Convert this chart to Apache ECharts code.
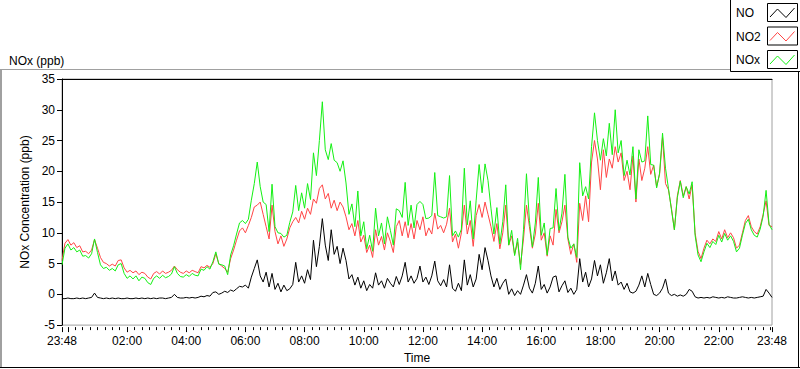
<!DOCTYPE html>
<html><head><meta charset="utf-8">
<script src="https://cdn.jsdelivr.net/npm/echarts@6/dist/echarts.min.js"></script>
<style>html,body{margin:0;padding:0;background:#fff;}#c{width:800px;height:369px;}</style>
</head><body><div id="c"></div>
<script>
// time axis: minutes relative to 00:00, first sample at 23:48 (-12), one sample every 6 minutes
const startMinute = -12;
const stepMinutes = 6;

const seriesNames = ['NO', 'NO2', 'NOx'];

const no = [
 -0.7,-0.7,-0.6,-0.7,-0.7,-0.6,-0.7,-0.6,-0.7,-0.6,
 -0.5,0.2,-0.5,-0.6,-0.7,-0.6,-0.7,-0.6,-0.7,-0.6,
 -0.7,-0.7,-0.6,-0.7,-0.7,-0.6,-0.7,-0.6,-0.7,-0.6,
 -0.7,-0.6,-0.7,-0.6,-0.6,-0.7,-0.6,-0.5,0.0,-0.5,
 -0.6,-0.6,-0.5,-0.6,-0.5,-0.6,-0.5,-0.3,-0.4,-0.2,
 -0.3,0.3,0.4,0.0,0.2,0.5,0.3,0.7,0.5,0.9,
 1.3,1.2,1.5,1.0,2.8,4.2,5.6,3.0,2.0,3.6,
 1.2,3.4,0.8,1.8,0.4,1.5,0.6,0.9,1.6,5.2,
 2.0,3.0,1.8,4.0,2.4,8.8,4.5,7.8,12.3,8.0,
 5.5,10.5,6.5,7.8,5.0,7.5,5.5,2.5,3.2,1.5,
 2.8,1.0,2.2,0.6,1.6,1.0,3.5,1.5,2.2,1.0,
 2.6,1.8,1.2,2.9,1.6,3.0,5.2,2.0,3.0,1.8,
 2.6,4.6,2.0,2.8,1.6,3.0,5.4,2.2,1.4,2.4,
 1.2,4.8,1.0,0.5,1.8,0.6,5.6,1.5,3.2,1.2,
 2.5,6.5,4.0,7.6,5.5,3.0,1.2,2.6,0.8,1.8,
 2.5,0.0,0.9,-0.2,0.6,0.0,1.5,3.2,1.0,0.2,
 1.8,4.6,0.8,1.6,0.2,1.2,2.8,3.0,0.4,1.4,
 2.2,0.3,1.0,0.0,0.8,5.8,2.0,3.6,1.2,2.5,
 5.5,3.0,4.8,1.8,3.5,5.8,2.2,3.8,1.5,2.0,
 0.8,1.8,0.4,0.2,0.5,1.5,3.0,1.2,3.4,1.6,
 0.0,-0.2,0.2,1.0,2.5,0.2,-0.2,0.0,-0.3,-0.1,
 -0.3,0.0,0.8,0.5,-0.4,-0.6,-0.5,-0.6,-0.5,-0.6,
 -0.4,-0.5,-0.6,-0.5,-0.6,-0.4,-0.5,-0.6,-0.6,-0.5,
 -0.4,-0.5,-0.6,-0.5,-0.6,-0.5,-0.4,-0.3,0.8,0.2,
 -0.5
];

const no2 = [
 5.5,8.3,8.9,8.0,8.4,7.6,7.9,6.9,7.0,6.6,
 7.2,8.9,7.5,6.0,5.2,5.0,4.6,4.9,4.6,5.5,
 5.6,4.3,3.6,3.9,3.5,3.8,3.2,3.6,3.4,2.8,
 2.5,3.4,3.7,3.3,3.8,3.4,3.6,3.9,4.6,4.0,
 3.6,3.4,3.8,3.5,3.9,3.7,3.5,4.5,4.3,4.7,
 4.4,5.0,6.6,5.0,4.6,4.2,3.6,5.8,7.2,8.8,
 10.3,10.8,10.0,11.2,12.5,14.2,14.5,15.0,13.0,11.0,
 9.0,14.5,10.2,8.2,9.5,7.8,9.0,10.8,11.8,12.5,
 11.6,13.5,12.2,14.0,13.0,15.5,14.8,17.2,17.8,15.5,
 16.4,14.0,15.3,13.6,15.0,14.2,12.6,10.5,11.5,9.5,
 12.0,8.5,9.6,6.8,8.0,6.0,10.5,8.0,9.4,7.2,
 10.0,8.6,6.8,11.0,12.0,9.5,11.8,9.2,11.5,9.0,
 12.0,10.5,12.6,9.5,10.8,9.8,13.2,10.6,11.2,10.0,
 11.4,14.0,8.5,9.8,7.5,10.0,14.5,9.8,12.0,7.8,
 12.8,14.6,12.5,15.0,13.0,11.0,8.6,11.5,7.4,10.0,
 14.5,8.0,9.5,6.5,8.5,4.8,9.0,14.5,11.0,7.5,
 9.8,14.8,8.8,10.0,6.2,9.5,8.0,13.8,10.0,11.8,
 14.5,9.0,6.5,8.2,5.2,14.8,12.0,16.0,11.8,21.5,
 25.0,22.0,17.0,23.5,19.0,22.0,20.5,24.0,21.5,23.0,
 18.5,20.0,17.0,22.5,15.0,22.0,18.5,20.5,24.0,19.5,
 21.0,17.5,19.5,25.5,18.0,17.0,14.0,10.5,16.0,18.5,
 16.0,17.5,15.5,17.8,10.0,7.0,5.8,7.5,8.8,8.2,
 9.0,8.6,10.2,9.0,10.5,9.2,10.0,9.2,7.5,8.0,
 10.0,12.0,12.8,11.0,10.2,9.8,11.0,13.0,15.2,11.2,
 11.0
];

const nox = [
 4.8,7.5,8.2,7.2,7.6,6.9,7.2,6.2,6.3,5.9,
 6.6,9.0,6.8,4.8,4.2,4.4,3.9,4.2,3.8,4.8,
 5.0,3.4,2.6,3.0,2.5,3.0,2.2,2.8,2.6,1.9,
 1.6,2.6,3.0,2.6,3.1,2.7,2.9,3.3,4.5,3.4,
 2.9,2.8,3.2,2.9,3.4,3.1,3.0,4.1,3.9,4.5,
 4.1,5.3,6.9,4.9,4.8,4.6,3.2,6.4,7.9,9.8,
 11.6,12.0,11.5,12.2,15.3,18.0,21.5,17.5,15.0,14.6,
 10.2,17.9,11.0,10.0,9.9,9.3,9.6,11.7,13.4,17.7,
 13.6,16.5,14.0,18.0,15.4,23.0,19.3,25.0,31.3,23.5,
 21.9,24.5,21.8,21.4,20.0,21.7,18.1,13.0,14.7,11.0,
 16.8,9.5,11.8,7.4,9.6,7.0,14.0,9.5,11.6,8.2,
 12.6,10.4,8.0,13.9,13.6,12.5,18.2,11.2,14.5,10.8,
 14.6,15.1,14.6,12.3,12.4,12.8,19.8,12.8,12.6,12.4,
 12.6,19.3,9.5,10.3,9.3,10.6,20.5,11.3,15.2,9.0,
 15.3,21.1,16.5,21.2,18.5,14.0,9.8,14.1,8.2,11.8,
 17.8,8.0,10.4,6.3,9.1,4.0,10.5,19.6,12.0,7.7,
 11.6,19.0,9.6,11.6,6.4,10.7,10.8,17.2,10.4,13.2,
 19.5,9.3,7.5,8.2,6.0,21.4,16.0,17.5,15.5,24.0,
 29.5,25.0,21.8,25.3,22.5,27.8,22.7,30.0,23.0,25.0,
 19.3,21.8,19.4,24.0,15.5,23.5,21.5,21.7,29.0,21.1,
 21.0,17.3,19.7,26.2,20.5,17.2,13.8,10.5,15.7,18.4,
 15.7,17.5,16.3,18.3,9.6,6.4,5.3,6.9,8.3,7.6,
 8.6,8.1,9.6,8.5,9.9,8.8,9.5,8.6,6.9,7.5,
 9.6,11.5,12.2,10.5,9.6,9.3,10.6,12.7,16.9,11.4,
 10.5
];

// x-axis ticks (minutes from 00:00)
const labelTicks = [-12, 120, 240, 360, 480, 600, 720, 840, 960, 1080, 1200, 1320, 1428];
const majorTicks = [-12, 0, 120, 240, 360, 480, 600, 720, 840, 960, 1080, 1200, 1320, 1428];
const minorTicks = [];
for (let m = 15; m < 1428; m += 15) minorTicks.push(m);

const yTicks = { min: -5, max: 35, interval: 5 };

const font = '"Liberation Sans", Arial, sans-serif';
const toPairs = arr => arr.map((v, i) => [startMinute + i * stepMinutes, v]);
const fmt = v => {
  const m = ((Math.round(v) % 1440) + 1440) % 1440;
  return String(Math.floor(m / 60)).padStart(2, '0') + ':' + String(m % 60).padStart(2, '0');
};

const chart = echarts.init(document.getElementById('c'), null, { renderer: 'svg' });

const colors = ['#000000', '#ff4545', '#14f014'];
const swatchTop = [3, 26.5, 50];
const graphics = [
  // outer panel frame
  { type: 'line', shape: { x1: 0, y1: 69.5, x2: 730, y2: 69.5 }, style: { stroke: '#a0a0a0', lineWidth: 1 } },
  { type: 'line', shape: { x1: 1, y1: 69, x2: 1, y2: 368 }, style: { stroke: '#a0a0a0', lineWidth: 2 } },
  { type: 'line', shape: { x1: 0, y1: 367.5, x2: 800, y2: 367.5 }, style: { stroke: '#000', lineWidth: 1 } },
  { type: 'line', shape: { x1: 798.5, y1: 72, x2: 798.5, y2: 368 }, style: { stroke: '#000', lineWidth: 1 } },
  // legend box
  { type: 'rect', shape: { x: 730.5, y: -1, width: 71, height: 72.5 }, style: { fill: '#fff', stroke: '#000', lineWidth: 1 } }
];
seriesNames.forEach((name, k) => {
  const t = swatchTop[k];
  graphics.push({ type: 'text', style: { text: name, x: 736, y: t + 10, verticalAlign: 'middle', font: '12px ' + font, fill: '#000' } });
  graphics.push({ type: 'rect', shape: { x: 767.5, y: t + 0.5, width: 30, height: 18 }, style: { fill: '#fff', stroke: '#000', lineWidth: 1 } });
  graphics.push({ type: 'polyline', shape: { points: [[770, t + 14], [777.5, t + 6], [786, t + 14.5], [794.5, t + 5]] }, style: { stroke: colors[k], lineWidth: 1, fill: null } });
});

const option = {
  animation: false,
  backgroundColor: '#fff',
  textStyle: { fontFamily: font },
  title: { text: 'NOx (ppb)', left: 4, top: 50, textStyle: { fontSize: 12, fontWeight: 'normal', color: '#000', fontFamily: font } },
  grid: { left: 62, right: 28, top: 79, bottom: 40, show: true, borderColor: '#a0a0a0', borderWidth: 1, backgroundColor: '#fff' },
  xAxis: [
    {
      type: 'value', position: 'bottom', min: -12, max: 1428, offset: 2,
      name: 'Time', nameLocation: 'middle', nameGap: 23,
      nameTextStyle: { fontSize: 12, color: '#000', fontFamily: font },
      axisLine: { show: false, onZero: false }, splitLine: { show: false },
      axisTick: { show: true, length: 5, customValues: majorTicks, lineStyle: { color: '#000' } },
      axisLabel: { customValues: labelTicks, formatter: fmt, margin: 8, fontSize: 12, color: '#000', fontFamily: font, showMinLabel: true, showMaxLabel: true, hideOverlap: false }
    },
    {
      type: 'value', position: 'bottom', min: -12, max: 1428, offset: 2,
      axisLine: { show: false, onZero: false }, splitLine: { show: false },
      axisTick: { show: true, length: 3, customValues: minorTicks, lineStyle: { color: '#000' } },
      axisLabel: { show: false }
    },
    {
      type: 'value', position: 'top', min: -12, max: 1428,
      axisLine: { show: true, onZero: false, lineStyle: { color: '#000' } },
      axisTick: { show: false }, axisLabel: { show: false }, splitLine: { show: false }
    }
  ],
  yAxis: {
    type: 'value', min: yTicks.min, max: yTicks.max, interval: yTicks.interval,
    name: 'NOx Concentration (ppb)', nameLocation: 'middle', nameGap: 25, nameRotate: 90,
    nameTextStyle: { fontSize: 12, color: '#000', fontFamily: font },
    axisLine: { show: true, onZero: false, lineStyle: { color: '#000' } },
    axisTick: { show: true, length: 5, lineStyle: { color: '#000' } },
    axisLabel: { margin: 7, fontSize: 12, color: '#000', fontFamily: font },
    splitLine: { show: false }
  },
  series: [
    { name: seriesNames[0], type: 'line', data: toPairs(no), showSymbol: false, symbol: 'none', lineStyle: { width: 1, color: colors[0] }, itemStyle: { color: colors[0] } },
    { name: seriesNames[1], type: 'line', data: toPairs(no2), showSymbol: false, symbol: 'none', lineStyle: { width: 1, color: colors[1] }, itemStyle: { color: colors[1] } },
    { name: seriesNames[2], type: 'line', data: toPairs(nox), showSymbol: false, symbol: 'none', lineStyle: { width: 1, color: colors[2] }, itemStyle: { color: colors[2] } }
  ],
  graphic: graphics
};
chart.setOption(option);
</script>
</body></html>
